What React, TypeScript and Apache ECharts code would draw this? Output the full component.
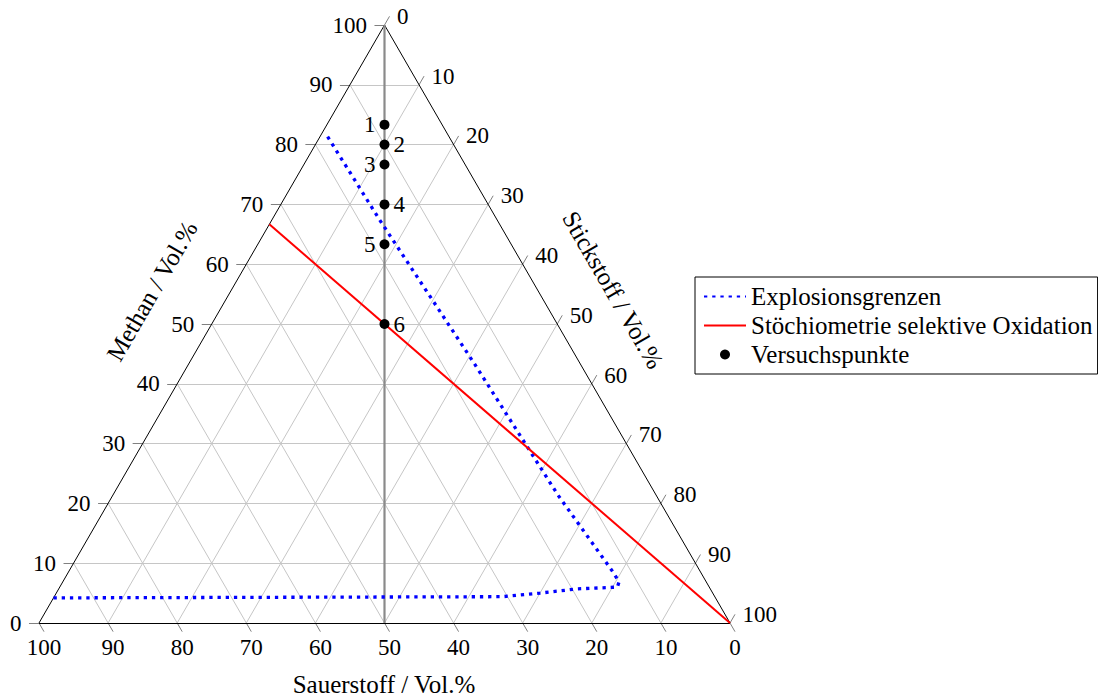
import React, { useEffect, useRef } from "react";
import * as echarts from "echarts";

// Compositions are [Sauerstoff, Stickstoff, Methan] in Vol.%
type Comp = [number, number, number];

const FONT = "'Liberation Serif', 'Times New Roman', serif";
const TEXT_SIZE = 25;
const NUM_SIZE = 23;

const tickValues = [0, 10, 20, 30, 40, 50, 60, 70, 80, 90, 100];
const gridValues = [10, 20, 30, 40, 50, 60, 70, 80, 90];

const explosionLimits: Comp[] = [
  [95.8, 0.0, 4.2],
  [30.7, 64.9, 4.4],
  [25.0, 70.0, 5.0],
  [19.3, 75.0, 5.7],
  [13.3, 80.7, 6.0],
  [12.6, 80.5, 6.9],
  [12.7, 78.5, 8.8],
  [14.2, 64.4, 21.4],
  [15.3, 41.5, 43.2],
  [17.0, 15.6, 67.4],
  [17.6, 0.4, 82.0],
];

const stoichiometry: Comp[] = [
  [0, 100, 0],
  [33.33, 0, 66.67],
];

// O2 : N2 = 1 : 1 line through the diagram
const equalO2N2: Comp[] = [
  [50, 50, 0],
  [0, 0, 100],
];

const testMethane = [83.33, 80, 76.67, 70, 63.33, 50];
const testLabels = ["1", "2", "3", "4", "5", "6"];
const testLabelSide = ["left", "right", "left", "right", "left", "right"];

const seriesNames = [
  "Explosionsgrenzen",
  "Stöchiometrie selektive Oxidation",
  "Versuchspunkte",
];

// ternary -> cartesian (x = N + M/2, y = M); the grid box keeps it equilateral
const toXY = (c: Comp): [number, number] => [c[1] + c[2] / 2, c[2]];

const TICK_H = 1.45; // ~10 px along a horizontal direction
const TICK_DX = 0.725; // slanted ticks, 60 degrees
const TICK_DY = 1.45;

export default function App() {
  const ref = useRef<HTMLDivElement>(null);

  useEffect(() => {
    if (!ref.current) return;
    const chart = echarts.init(ref.current, undefined, { renderer: "svg" });

    // grid lines of constant M, O and N
    const gridLines: { coords: [number, number][] }[] = [];
    gridValues.forEach((k) => {
      gridLines.push({ coords: [toXY([100 - k, 0, k]), toXY([0, 100 - k, k])] });
      gridLines.push({ coords: [toXY([k, 100 - k, 0]), toXY([k, 0, 100 - k])] });
      gridLines.push({ coords: [toXY([100 - k, k, 0]), toXY([0, k, 100 - k])] });
    });

    const frame = [
      { coords: [toXY([100, 0, 0]), toXY([0, 100, 0])] },
      { coords: [toXY([0, 100, 0]), toXY([0, 0, 100])] },
      { coords: [toXY([0, 0, 100]), toXY([100, 0, 0])] },
    ];

    const tickLines: { coords: [number, number][] }[] = [];
    const leftLabels: any[] = [];
    const rightLabels: any[] = [];
    const bottomLabels: any[] = [];
    tickValues.forEach((k) => {
      // Methan (left edge)
      const l = toXY([100 - k, 0, k]);
      const le: [number, number] = [l[0] - TICK_H, l[1]];
      tickLines.push({ coords: [l, le] });
      leftLabels.push({ value: le, name: String(k) });
      // Stickstoff (right edge)
      const r = toXY([0, k, 100 - k]);
      const re: [number, number] = [r[0] + TICK_DX, r[1] + TICK_DY];
      tickLines.push({ coords: [r, re] });
      rightLabels.push({ value: re, name: String(k) });
      // Sauerstoff (bottom edge)
      const b = toXY([k, 100 - k, 0]);
      const be: [number, number] = [b[0] + TICK_DX, b[1] - TICK_DY];
      tickLines.push({ coords: [b, be] });
      bottomLabels.push({ value: be, name: String(k) });
    });

    const labelStyle = {
      show: true,
      fontFamily: FONT,
      fontSize: NUM_SIZE,
      color: "#000",
      formatter: (p: any) => p.name,
    };

    const tickLabelSeries = (data: any[], position: string, distance: number) => ({
      type: "scatter",
      data,
      symbol: "circle",
      symbolSize: 1,
      itemStyle: { color: "rgba(0,0,0,0)", opacity: 1 },
      label: { ...labelStyle, position, distance },
      silent: true,
      clip: false,
      z: 5,
    });

    const testPoints = testMethane.map((m, i) => {
      const o = (100 - m) / 2;
      return {
        value: toXY([o, o, m]),
        name: testLabels[i],
        label: { position: testLabelSide[i] },
      };
    });

    const titleStyle = (text: string) => ({
      text,
      font: `${TEXT_SIZE}px ${FONT}`,
      fill: "#000",
      align: "center",
      verticalAlign: "middle",
      textAlign: "center",
      textVerticalAlign: "middle",
    });

    chart.setOption({
      animation: false,
      grid: { left: 39, right: 368, top: 25, bottom: 75, containLabel: false },
      xAxis: { type: "value", min: 0, max: 100, show: false },
      yAxis: { type: "value", min: 0, max: 100, show: false },
      legend: {
        data: [
          { name: seriesNames[0], itemStyle: { opacity: 0 } },
          { name: seriesNames[1], itemStyle: { opacity: 0 } },
          { name: seriesNames[2] },
        ],
        orient: "vertical",
        left: 695,
        top: 277,
        itemWidth: 42,
        itemHeight: 10,
        itemGap: 4,
        padding: [7, 5, 7, 8],
        borderColor: "#000",
        borderWidth: 1,
        borderRadius: 0,
        selectedMode: false,
        textStyle: {
          fontFamily: FONT,
          fontSize: TEXT_SIZE,
          color: "#000",
        },
      },
      graphic: [
        { type: "text", x: 384, y: 684, style: titleStyle("Sauerstoff / Vol.%") },
        {
          type: "text",
          x: 152,
          y: 291,
          rotation: Math.PI / 3,
          style: titleStyle("Methan / Vol.%"),
        },
        {
          type: "text",
          x: 613,
          y: 290,
          rotation: -Math.PI / 3,
          style: titleStyle("Stickstoff / Vol.%"),
        },
      ],
      series: [
        {
          type: "lines",
          coordinateSystem: "cartesian2d",
          data: gridLines,
          lineStyle: { color: "#c6c6c6", width: 1, opacity: 1 },
          silent: true,
          clip: false,
          z: 1,
        },
        {
          type: "lines",
          coordinateSystem: "cartesian2d",
          data: tickLines,
          lineStyle: { color: "#808080", width: 1, opacity: 1 },
          silent: true,
          clip: false,
          z: 2,
        },
        {
          type: "lines",
          coordinateSystem: "cartesian2d",
          data: frame,
          lineStyle: { color: "#000", width: 1, opacity: 1 },
          silent: true,
          clip: false,
          z: 3,
        },
        {
          type: "line",
          data: equalO2N2.map(toXY),
          symbol: "none",
          lineStyle: { color: "#8a8a8a", width: 2.2 },
          silent: true,
          clip: false,
          z: 3,
        },
        {
          name: seriesNames[0],
          type: "line",
          data: explosionLimits.map(toXY),
          symbol: "none",
          lineStyle: { color: "#0000ff", width: 3.3, type: [3.3, 4.9], cap: "butt" },
          itemStyle: { color: "#0000ff" },
          clip: false,
          z: 4,
        },
        {
          name: seriesNames[1],
          type: "line",
          data: stoichiometry.map(toXY),
          symbol: "none",
          lineStyle: { color: "#ff0000", width: 2 },
          itemStyle: { color: "#ff0000" },
          clip: false,
          z: 4,
        },
        {
          name: seriesNames[2],
          type: "scatter",
          data: testPoints,
          symbol: "circle",
          symbolSize: 10,
          itemStyle: { color: "#000", opacity: 1 },
          label: { ...labelStyle, distance: 4 },
          clip: false,
          z: 6,
        },
        tickLabelSeries(leftLabels, "left", 7),
        tickLabelSeries(rightLabels, "right", 7),
        tickLabelSeries(bottomLabels, "bottom", 4),
      ],
    });

    return () => chart.dispose();
  }, []);

  return (
    <div
      ref={ref}
      style={{ position: "absolute", left: 0, top: 0, width: 1098, height: 698 }}
    />
  );
}
